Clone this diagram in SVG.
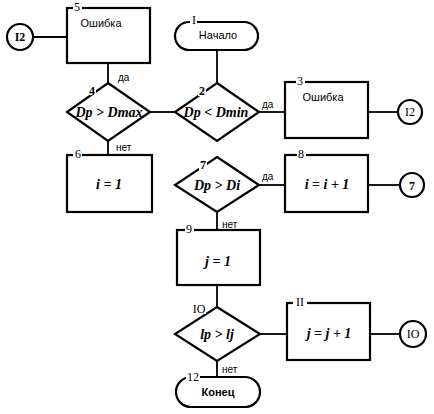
<svg xmlns="http://www.w3.org/2000/svg" width="434" height="414" viewBox="0 0 434 414">
<style>
.s{fill:#fff;stroke:#000;stroke-width:2.2}
.c{fill:none;stroke:#000;stroke-width:1.8}
.t{font-family:"Liberation Sans",Arial,sans-serif;font-size:11px;fill:#000;text-anchor:middle}
.n{font-family:"Liberation Serif","Times New Roman",serif;font-size:12px;fill:#000;text-anchor:middle}
.m{font-family:"Liberation Serif","Times New Roman",serif;font-size:14px;font-style:italic;font-weight:bold;fill:#000;text-anchor:middle}
.y{font-family:"Liberation Sans",Arial,sans-serif;font-size:10px;fill:#000}
.bg{fill:#fff}
</style>
<rect width="434" height="414" fill="#fff"/>
<g id="connectors">
<line class="c" x1="33" y1="37" x2="67" y2="37"/>
<line class="c" x1="108" y1="63" x2="108" y2="83"/>
<line class="c" x1="150" y1="112" x2="175" y2="112"/>
<line class="c" x1="217" y1="50" x2="217" y2="83"/>
<line class="c" x1="259" y1="112" x2="285" y2="112"/>
<line class="c" x1="368" y1="112" x2="398" y2="112"/>
<line class="c" x1="108" y1="141" x2="108" y2="155"/>
<line class="c" x1="259" y1="185" x2="285" y2="185"/>
<line class="c" x1="368" y1="185" x2="400" y2="185"/>
<line class="c" x1="217" y1="212" x2="217" y2="230"/>
<line class="c" x1="217" y1="285" x2="217" y2="307"/>
<line class="c" x1="260" y1="334" x2="287" y2="334"/>
<line class="c" x1="370" y1="334" x2="400" y2="334"/>
<line class="c" x1="217" y1="361" x2="217" y2="377"/>
<text class="y" x="118" y="81">да</text>
<text class="y" x="116" y="151">нет</text>
<text class="y" x="262" y="108">да</text>
<text class="y" x="262" y="180">да</text>
<text class="y" x="222" y="228">нет</text>
<text class="y" x="222" y="373">нет</text>
</g>
<g id="c12a"><circle class="s" cx="20" cy="37" r="13"/><text class="n" x="20" y="41" font-weight="bold">I2</text></g>
<g id="n5"><rect class="s" x="67" y="8" width="83" height="55"/><rect class="bg" x="73" y="2" width="9" height="10"/><text class="n" x="77" y="11">5</text><text class="t" x="101" y="27">Ошибка</text></g>
<g id="n1"><rect class="s" x="175" y="22" width="83" height="28" rx="14"/><rect class="bg" x="190" y="15" width="7" height="10"/><text class="n" x="194" y="24">I</text><text class="t" x="218" y="39">Начало</text></g>
<g id="n4"><polygon class="s" points="108,83 150,112 108,141 67,112"/><rect class="bg" x="88" y="85" width="8" height="10"/><text class="n" x="92" y="95" font-weight="bold">4</text><text class="m" x="109" y="117">Dp &gt; Dmax</text></g>
<g id="n2"><polygon class="s" points="217,83 259,112 217,141 175,112"/><rect class="bg" x="198" y="86" width="8" height="10"/><text class="n" x="202" y="95" font-weight="bold">2</text><text class="m" x="216" y="117">Dp &lt; Dmin</text></g>
<g id="n3"><rect class="s" x="285" y="82" width="83" height="56"/><rect class="bg" x="296" y="76" width="9" height="10"/><text class="n" x="300" y="85">3</text><text class="t" x="323" y="101">Ошибка</text></g>
<g id="c12b"><circle class="s" cx="410" cy="112" r="12"/><text class="n" x="410" y="116">I2</text></g>
<g id="n6"><rect class="s" x="67" y="155" width="85" height="57"/><rect class="bg" x="73" y="149" width="9" height="10"/><text class="n" x="78" y="158">6</text><text class="m" x="109" y="189">i = 1</text></g>
<g id="n7"><polygon class="s" points="217,157 259,185 217,212 175,185"/><rect class="bg" x="199" y="160" width="8" height="10"/><text class="n" x="203" y="169" font-weight="bold">7</text><text class="m" x="217" y="190">Dp &gt; Di</text></g>
<g id="n8"><rect class="s" x="285" y="155" width="83" height="57"/><rect class="bg" x="297" y="149" width="9" height="10"/><text class="n" x="301" y="158">8</text><text class="m" x="327" y="189">i = i + 1</text></g>
<g id="c7"><circle class="s" cx="412" cy="185" r="12"/><text class="n" x="412" y="190" font-weight="bold">7</text></g>
<g id="n9"><rect class="s" x="177" y="230" width="83" height="55"/><rect class="bg" x="185" y="224" width="9" height="10"/><text class="n" x="189" y="233">9</text><text class="m" x="218" y="266">j = 1</text></g>
<g id="n10"><polygon class="s" points="217,307 260,334 217,361 175,334"/><rect class="bg" x="192" y="304" width="14" height="10"/><text class="n" x="199" y="313">IO</text><text class="m" x="217" y="339">lp &gt; lj</text></g>
<g id="n11"><rect class="s" x="287" y="303" width="83" height="57"/><rect class="bg" x="293" y="297" width="14" height="10"/><text class="n" x="300" y="306">II</text><text class="m" x="329" y="338">j = j + 1</text></g>
<g id="c10"><circle class="s" cx="413" cy="334" r="13"/><text class="n" x="413" y="338">IO</text></g>
<g id="n12"><rect class="s" x="176" y="377" width="84" height="30" rx="15"/><rect class="bg" x="186" y="372" width="14" height="10"/><text class="n" x="193" y="381">12</text><text class="t" x="218" y="396" font-weight="bold">Конец</text></g>
</svg>
